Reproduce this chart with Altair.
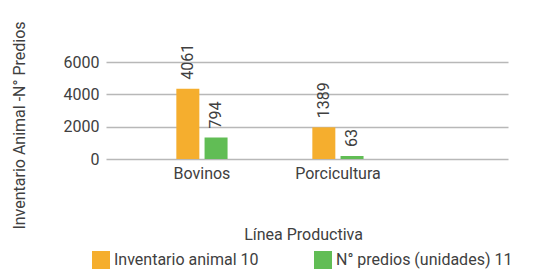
import altair as alt
import pandas as pd

categories = ["Bovinos", "Porcicultura"]
series = ["Inventario animal 10", "N° predios (unidades) 11"]
inventario_bar = [4340, 1960]
predios_bar = [1330, 185]
inventario_label = ["4061", "1389"]
predios_label = ["794", "63"]
y_ticks = [0, 2000, 4000, 6000]
colors = ["#F5AE2E", "#61BD55"]

rows = []
for i, c in enumerate(categories):
    rows.append({"cat": c, "serie": series[0], "valor": inventario_bar[i], "etiqueta": inventario_label[i]})
    rows.append({"cat": c, "serie": series[1], "valor": predios_bar[i], "etiqueta": predios_label[i]})
df = pd.DataFrame(rows)

FONT = "Roboto"
TXT = "#404040"
FS = 16

# placeholder slots on each side keep the two bars close together inside each band
offset_domain = ["_izq"] + series + ["_der"]
offset_scale = alt.Scale(domain=offset_domain, paddingInner=0.18, paddingOuter=0.5)

x = alt.X("cat:N", sort=categories,
          scale=alt.Scale(paddingInner=0, paddingOuter=0.478, align=0.215),
          axis=alt.Axis(title="Línea Productiva", labelAngle=0, ticks=False, domain=False,
                        labelFontSize=FS, labelPadding=6, labelColor=TXT,
                        titleFontSize=FS, titleFontWeight="normal", titleColor=TXT,
                        titleX=197, titleY=67, titleBaseline="top"))
y = alt.Y("valor:Q", scale=alt.Scale(domain=[0, 6000], nice=False),
          axis=alt.Axis(title="Inventario Animal -N° Predios", values=y_ticks, format="d",
                        tickCount=4, ticks=False, domain=False, labelFontSize=FS, labelPadding=7,
                        labelOverlap=False, labelColor=TXT,
                        gridColor="#b8b8b8", gridWidth=1.5,
                        titleFontSize=FS, titleFontWeight="normal", titleColor=TXT,
                        titleAngle=270, titleAlign="center", titleBaseline="middle",
                        titleX=-87, titleY=63))
color = alt.Color("serie:N", sort=series,
                  scale=alt.Scale(domain=series, range=colors),
                  legend=alt.Legend(title=None, orient="none", legendX=-14, legendY=189,
                                    direction="horizontal", symbolType="square",
                                    symbolSize=324, symbolStrokeWidth=0, symbolOpacity=1,
                                    labelFontSize=FS, labelColor=TXT, labelOffset=4,
                                    labelLimit=400, columnPadding=55, padding=0))
xo = alt.XOffset("serie:N", scale=offset_scale)

bars = alt.Chart(df).mark_bar(size=23).encode(x=x, xOffset=xo, y=y, color=color)
labels = alt.Chart(df).mark_text(angle=270, align="left", baseline="middle", dx=9,
                                 fontSize=FS, color=TXT, font=FONT).encode(
    x=x, xOffset=xo, y=y, text="etiqueta:N")

chart = alt.layer(bars, labels).properties(
    width=402, height=97,
    autosize=alt.AutoSizeParams(type="none"),
    padding={"left": 98, "top": 54, "right": 20, "bottom": 110},
).configure(font=FONT).configure_view(stroke=None)

chart.save("out.html", embed_options={"renderer": "svg", "actions": False})
